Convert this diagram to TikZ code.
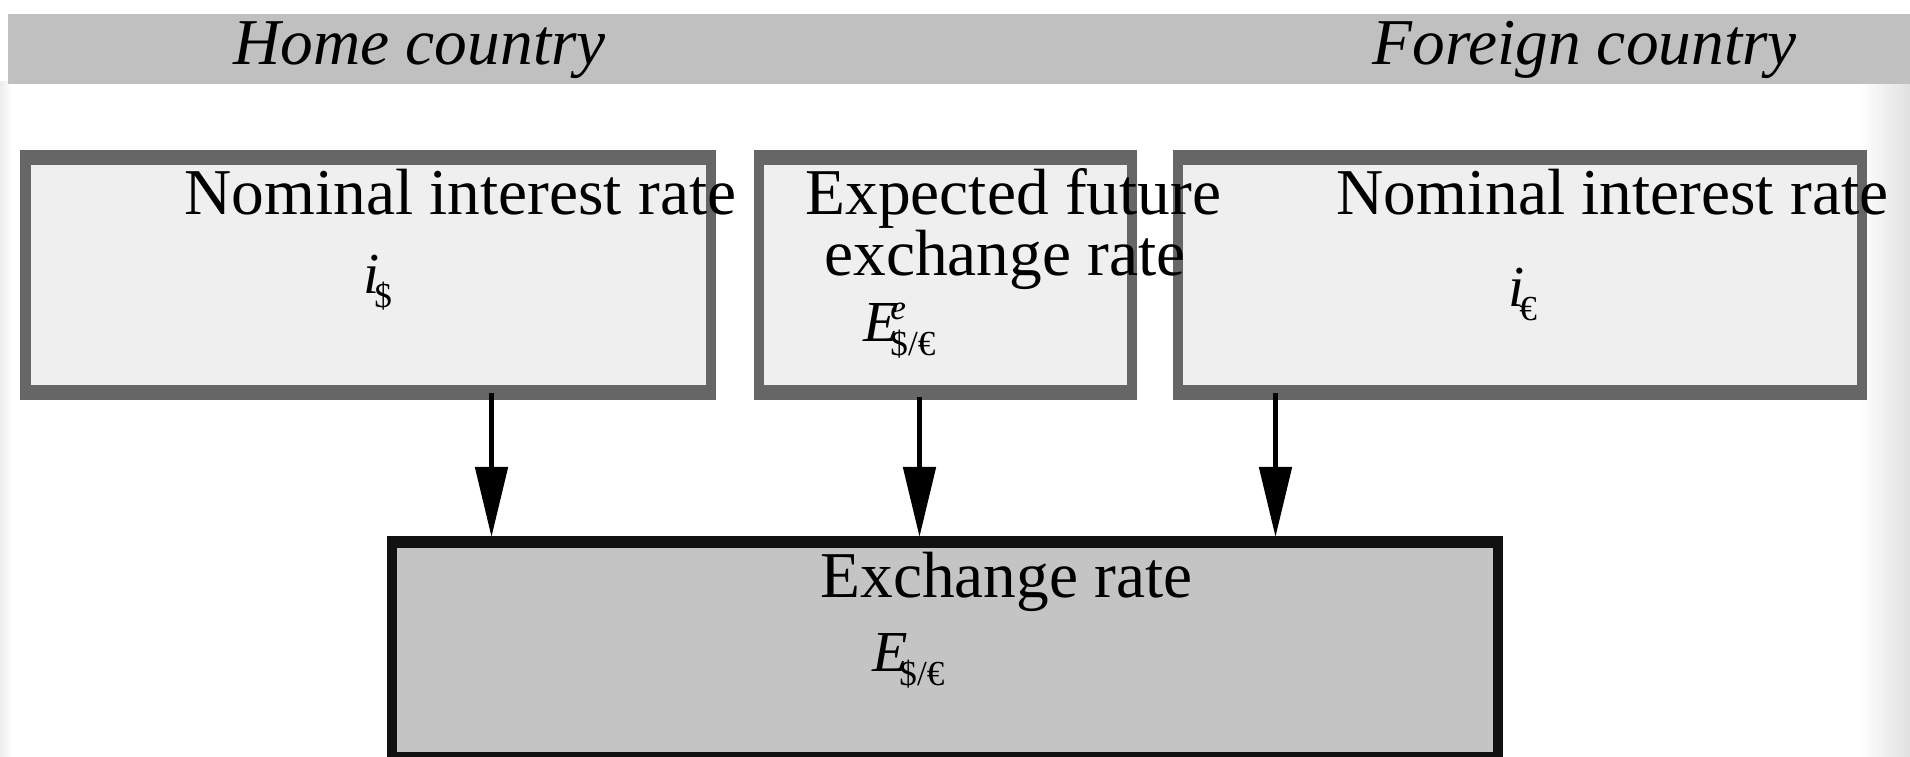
\documentclass[tikz,border=0pt]{standalone}
\usepackage{fontspec}
\setmainfont{Liberation Serif}
\usepackage{tikz}
\usetikzlibrary{arrows.meta,positioning,calc}
\definecolor{bandgray}{HTML}{C0C0C0}
\definecolor{boxfill}{HTML}{EFEFEF}
\definecolor{boxline}{HTML}{666666}
\definecolor{ratefill}{HTML}{C4C4C4}
\definecolor{rateline}{HTML}{111111}
\tikzset{>={Triangle[length=0.70cm,width=0.32cm]}}
\tikzset{
  txt/.style={anchor=base west, inner sep=0pt, font=\fontsize{18.6}{18.6}\selectfont},
  country/.style={txt, font=\fontsize{18.6}{18.6}\selectfont\itshape},
  inputbox/.style={anchor=north west, inner sep=0pt, fill=boxline, minimum height=2.50cm,
    path picture={\fill[boxfill] ([shift={(0.10,-0.15)}]path picture bounding box.north west)
      rectangle ([shift={(-0.10,0.15)}]path picture bounding box.south east);}},
  ratebox/.style={anchor=north west, inner sep=0pt, fill=rateline, minimum height=2.28cm,
    path picture={\fill[ratefill] ([shift={(0.10,-0.12)}]path picture bounding box.north west)
      rectangle ([shift={(-0.10,0.12)}]path picture bounding box.south east);}}
}
% base, kern, superscript, subscript
\newcommand{\ratesym}[4]{{\fontsize{16.5}{16.5}\selectfont\textit{#1}}\kern#2%
  \rlap{\raisebox{6.5pt}{\fontsize{10}{10}\selectfont\textit{#3}}}%
  \raisebox{-3.8pt}{\fontsize{10}{10}\selectfont #4}}

\begin{document}
\begin{tikzpicture}[line width=0.05cm]
  \useasboundingbox (0,0) rectangle (19.10,-7.57);
  % soft edges of the page
  \shade[left color=white, right color=black!12, draw=none] (18.60,-0.82) rectangle (19.10,-7.57);
  \shade[left color=black!7, right color=white, draw=none] (0,-0.82) rectangle (0.12,-7.57);
  % title band
  \node[fill=bandgray, anchor=north west, inner sep=0pt, minimum width=19.04cm,
    minimum height=0.70cm] (band) at (0.06,-0.12) {};
  \node[country] (homelbl) at (2.31,-0.65) {Home country};
  \node[country] (foreignlbl) at (13.70,-0.65) {Foreign country};
  % input boxes
  \node[inputbox, minimum width=6.95cm] (home) at (0.18,-1.48) {};
  \node[inputbox, minimum width=3.83cm] (expect) at (7.51,-1.48) {};
  \node[inputbox, minimum width=6.94cm] (foreign) at (11.70,-1.48) {};
  % result box
  \node[ratebox, minimum width=11.16cm] (rate) at (3.84,-5.34) {};
  % texts
  \node[txt] (homett) at (1.82,-2.15) {Nominal interest rate};
  \node[txt] (homesym) at (3.61,-2.94) {\ratesym{i}{-1.5pt}{}{\$}};
  \node[txt] (expectt) at (8.03,-2.15) {Expected future};
  \node[txt] (expectu) at (8.22,-2.76) {exchange rate};
  \node[txt] (expectsym) at (8.61,-3.42) {\ratesym{E}{-2.4pt}{e}{\$/€}};
  \node[txt] (foreigntt) at (13.34,-2.15) {Nominal interest rate};
  \node[txt] (foreignsym) at (15.06,-3.07) {\ratesym{i}{-1.5pt}{}{€}};
  \node[txt] (ratett) at (8.18,-5.98) {Exchange rate};
  \node[txt] (ratesym) at (8.70,-6.72) {\ratesym{E}{-2.4pt}{}{\$/€}};
  % arrows into the exchange rate
  \foreach \src/\dx/\dy in {home/1.235/0.10, expect/-0.255/0.06, foreign/-2.44/0.10} {
    \coordinate (from) at ([shift={(\dx,\dy)}]\src.south);
    \draw[->] (from) -- ([yshift=-0.03cm]from |- rate.north);
  }
\end{tikzpicture}
\end{document}
